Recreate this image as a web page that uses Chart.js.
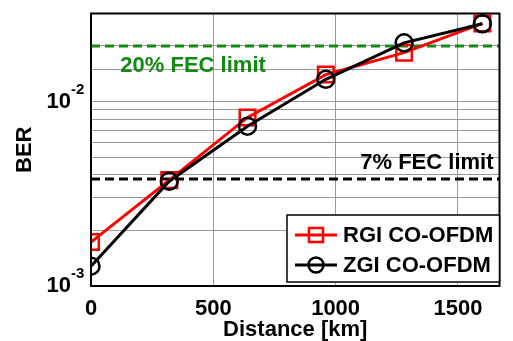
<!DOCTYPE html>
<html>
<head>
<meta charset="utf-8">
<script src="https://cdn.jsdelivr.net/npm/chart.js@4/dist/chart.umd.min.js"></script>
<style>
  html, body { margin: 0; padding: 0; background: #fff; }
  #wrap { width: 513px; height: 341px; }
</style>
</head>
<body>
<div id="wrap"><canvas id="c" width="513" height="341"></canvas></div>
<script>
// data
const distances = [0, 320, 640, 960, 1280, 1600];
const rgiBer = [1.73e-3, 3.75e-3, 8.2e-3, 0.0140, 0.0184, 0.0265];
const zgiBer = [1.28e-3, 3.7e-3, 7.35e-3, 0.0132, 0.0208, 0.0264];
const xTicks = [0, 500, 1000, 1500];
const yDecades = [1e-3, 1e-2];
const yExponents = ['-3', '-2'];
const fecLimits = [0.02, 3.8e-3];
const fecLabels = ['20% FEC limit', '7% FEC limit'];
const seriesNames = ['RGI CO-OFDM', 'ZGI CO-OFDM'];

const X_MIN = 0, X_MAX = 1670;
const Y_MIN = 1e-3, Y_MAX = 0.03;
const FONT = '"Liberation Sans", Arial, sans-serif';
const GREEN = '#138a13';

const pts = (ys) => distances.map((d, i) => ({ x: d, y: ys[i] }));
const hline = (v) => [{ x: X_MIN, y: v }, { x: X_MAX, y: v }];

// draws y labels as 10^n, the FEC texts, frame and legend
const decorPlugin = {
    id: 'decor',
    afterDatasetsDraw(chart) {
        const { ctx, chartArea: a, scales: { x, y } } = chart;
        ctx.save();

        // frame
        ctx.strokeStyle = '#000';
        ctx.lineWidth = 2;
        ctx.strokeRect(a.left, a.top, a.right - a.left, a.bottom - a.top);

        // FEC texts
        ctx.font = 'bold 22px ' + FONT;
        ctx.textBaseline = 'middle';
        ctx.fillStyle = GREEN;
        ctx.textAlign = 'left';
        ctx.fillText(fecLabels[0], x.getPixelForValue(120), y.getPixelForValue(fecLimits[0]) + 20);
        ctx.fillStyle = '#000';
        ctx.textAlign = 'right';
        ctx.fillText(fecLabels[1], a.right - 6, y.getPixelForValue(fecLimits[1]) - 16);

        // y tick labels 10^n
        yDecades.forEach((v, i) => {
            const py = y.getPixelForValue(v);
            ctx.font = 'bold 22px ' + FONT;
            ctx.textAlign = 'right';
            ctx.textBaseline = 'middle';
            ctx.fillText('10', a.left - 20, py);
            ctx.font = 'bold 15px ' + FONT;
            ctx.textAlign = 'left';
            ctx.fillText(yExponents[i], a.left - 20, py - 12);
        });

        // legend
        const lx = 287, ly = 215, lw = a.right - lx, lh = 67;
        ctx.fillStyle = '#fff';
        ctx.fillRect(lx, ly, lw, lh);
        ctx.strokeStyle = '#000';
        ctx.lineWidth = 1.5;
        ctx.strokeRect(lx, ly, lw, lh);
        const rows = [
            { name: seriesNames[0], color: '#ff0000', style: 'rect', cy: ly + 20 },
            { name: seriesNames[1], color: '#000', style: 'circle', cy: ly + 50 }
        ];
        rows.forEach(r => {
            ctx.strokeStyle = r.color;
            ctx.lineWidth = 3;
            ctx.beginPath();
            ctx.moveTo(lx + 8, r.cy);
            ctx.lineTo(lx + 50, r.cy);
            ctx.stroke();
            ctx.lineWidth = 2.5;
            ctx.beginPath();
            if (r.style === 'rect') {
                ctx.rect(lx + 22, r.cy - 7, 14, 14);
            } else {
                ctx.arc(lx + 29, r.cy, 7.5, 0, Math.PI * 2);
            }
            ctx.stroke();
            ctx.fillStyle = '#000';
            ctx.font = 'bold 22px ' + FONT;
            ctx.textAlign = 'left';
            ctx.textBaseline = 'middle';
            ctx.fillText(r.name, lx + 56, r.cy + 1);
        });

        ctx.restore();
    }
};

new Chart(document.getElementById('c'), {
    type: 'line',
    data: {
        datasets: [
            {
                label: seriesNames[1],
                data: pts(zgiBer),
                borderColor: '#000',
                borderWidth: 3,
                pointStyle: 'circle',
                pointRadius: 8.5,
                pointBorderWidth: 2.5,
                pointBorderColor: '#000',
                pointBackgroundColor: 'transparent',
                order: 0
            },
            {
                label: seriesNames[0],
                data: pts(rgiBer),
                borderColor: '#ff0000',
                borderWidth: 3,
                pointStyle: 'rect',
                pointRadius: 11,
                pointBorderWidth: 2.5,
                pointBorderColor: '#ff0000',
                pointBackgroundColor: 'transparent',
                order: 1
            },
            {
                label: fecLabels[0],
                data: hline(fecLimits[0]),
                borderColor: GREEN,
                borderWidth: 3,
                borderDash: [9, 5],
                pointRadius: 0,
                order: 2
            },
            {
                label: fecLabels[1],
                data: hline(fecLimits[1]),
                borderColor: '#000',
                borderWidth: 3,
                borderDash: [9, 5],
                pointRadius: 0,
                order: 3
            }
        ]
    },
    options: {
        responsive: false,
        devicePixelRatio: 1,
        animation: false,
        layout: { padding: { top: 10, right: 3, left: 0, bottom: 0 } },
        plugins: { legend: { display: false }, tooltip: { enabled: false } },
        scales: {
            x: {
                type: 'linear',
                min: X_MIN,
                max: X_MAX,
                afterBuildTicks: (s) => { s.ticks = xTicks.map(v => ({ value: v })); },
                afterFit: (s) => { s.height = 55; s.paddingLeft = 0; s.paddingRight = 0; },
                grid: { color: '#9a9a9a', lineWidth: 1, drawTicks: false },
                border: { display: false },
                ticks: {
                    color: '#000',
                    padding: 10,
                    maxRotation: 0,
                    callback: (v) => String(v),
                    font: { family: FONT, size: 22, weight: 'bold' }
                },
                title: {
                    display: true,
                    text: 'Distance [km]',
                    color: '#000',
                    padding: 0,
                    font: { family: FONT, size: 22, weight: 'bold', lineHeight: 1 }
                }
            },
            y: {
                type: 'logarithmic',
                min: Y_MIN,
                max: Y_MAX,
                afterFit: (s) => { s.width = 91; },
                grid: { color: '#9a9a9a', lineWidth: 1, drawTicks: false },
                border: { display: false },
                ticks: { display: false },
                title: {
                    display: true,
                    text: 'BER',
                    color: '#000',
                    padding: { top: 14, bottom: 0 },
                    font: { family: FONT, size: 22, weight: 'bold', lineHeight: 1 }
                }
            }
        }
    },
    plugins: [decorPlugin]
});
</script>
</body>
</html>
